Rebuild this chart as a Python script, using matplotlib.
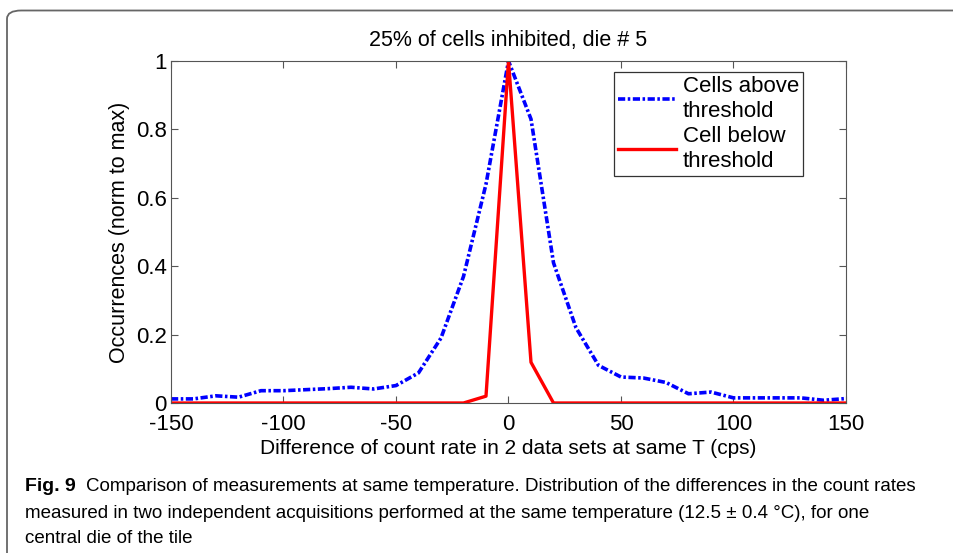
import matplotlib
matplotlib.use("Agg")
import matplotlib.pyplot as plt
from matplotlib.patches import FancyBboxPatch

# difference of count rate (cps)
x_diff = [-150, -140, -130, -120, -110, -100, -90, -80, -70, -60, -50, -40, -30, -20, -10,
          0, 10, 20, 30, 40, 50, 60, 70, 80, 90, 100, 110, 120, 130, 140, 150]
above = [0.012, 0.012, 0.021, 0.017, 0.036, 0.036, 0.039, 0.042, 0.046, 0.041, 0.051, 0.088,
         0.19, 0.37, 0.64, 1.0, 0.83, 0.41, 0.22, 0.11, 0.076, 0.073, 0.06, 0.027, 0.032,
         0.015, 0.015, 0.015, 0.015, 0.008, 0.013]
below = [0, 0, 0, 0, 0, 0, 0, 0, 0, 0, 0, 0, 0, 0, 0.02,
         1.0, 0.119, 0, 0, 0, 0, 0, 0, 0, 0, 0, 0, 0, 0, 0, 0]

xticks = [-150, -100, -50, 0, 50, 100, 150]
yticks = [0, 0.2, 0.4, 0.6, 0.8, 1]
ytick_labels = ["0", "0.2", "0.4", "0.6", "0.8", "1"]

caption = [
    "Comparison of measurements at same temperature. Distribution of the differences in the count rates",
    "measured in two independent acquisitions performed at the same temperature (12.5 \u00b1 0.4 \u00b0C), for one",
    "central die of the tile",
]

plt.rcParams['font.family'] = ['Liberation Sans', 'DejaVu Sans']
plt.rcParams['axes.unicode_minus'] = False

W, H = 954, 553
fig = plt.figure(figsize=(W / 100, H / 100), dpi=100)

# rounded frame around figure + caption (runs off right and bottom edges)
frame = FancyBboxPatch((7 / W, -0.2), 1.2, 1.2 - 10.5 / H,
                       boxstyle="round,pad=0,rounding_size=0.015",
                       transform=fig.transFigure, fill=False,
                       edgecolor="#666666", linewidth=1.3, clip_on=False)
fig.patches.append(frame)

ax = fig.add_axes([171 / W, 1 - 403 / H, 675 / W, 342 / H])
ax.plot(x_diff, above, color="blue", linewidth=2.6,
        linestyle=(0, (2.0, 0.7, 0.7, 0.7)), label="Cells above\nthreshold")
ax.plot(x_diff, below, color="red", linewidth=2.4, label="Cell below\nthreshold")

ax.set_xlim(-150, 150)
ax.set_ylim(0, 1)
ax.set_xticks(xticks)
ax.set_yticks(yticks)
ax.set_yticklabels(ytick_labels)
ax.tick_params(direction="in", length=5, labelsize=16, top=True, right=True,
               color="#555555")
ax.tick_params(axis="x", pad=8)
ax.tick_params(axis="y", pad=3)
for s in ax.spines.values():
    s.set_color("#555555")

ax.set_title("25% of cells inhibited, die # 5", fontsize=15.5, pad=11)
ax.set_xlabel("Difference of count rate in 2 data sets at same T (cps)", fontsize=15, labelpad=3)
ax.set_ylabel("Occurrences (norm to max)", fontsize=15.5, labelpad=4)

leg = ax.legend(loc="upper right", bbox_to_anchor=(0.937, 0.968), fontsize=16,
                frameon=True, fancybox=False, edgecolor="black", handlelength=2.6,
                borderpad=0.2, labelspacing=0.22, handletextpad=0.3, borderaxespad=0)
leg.get_frame().set_linewidth(0.9)

# caption
cap_font = ['Liberation Sans Narrow', 'Liberation Sans', 'DejaVu Sans']
t1 = fig.text(25 / W, 1 - 491 / H, "Fig. 9", fontsize=14, fontweight="bold",
              family=cap_font, va="baseline")
fig.canvas.draw()
bb = t1.get_window_extent()
fig.text((bb.x1 + 10) / W, 1 - 491 / H, caption[0],
         fontsize=13.5, family=cap_font, va="baseline")
fig.text(25 / W, 1 - 518 / H, caption[1], fontsize=13.5, family=cap_font, va="baseline")
fig.text(25 / W, 1 - 543 / H, caption[2], fontsize=13.5, family=cap_font, va="baseline")

fig.savefig("out.png", dpi=100)
